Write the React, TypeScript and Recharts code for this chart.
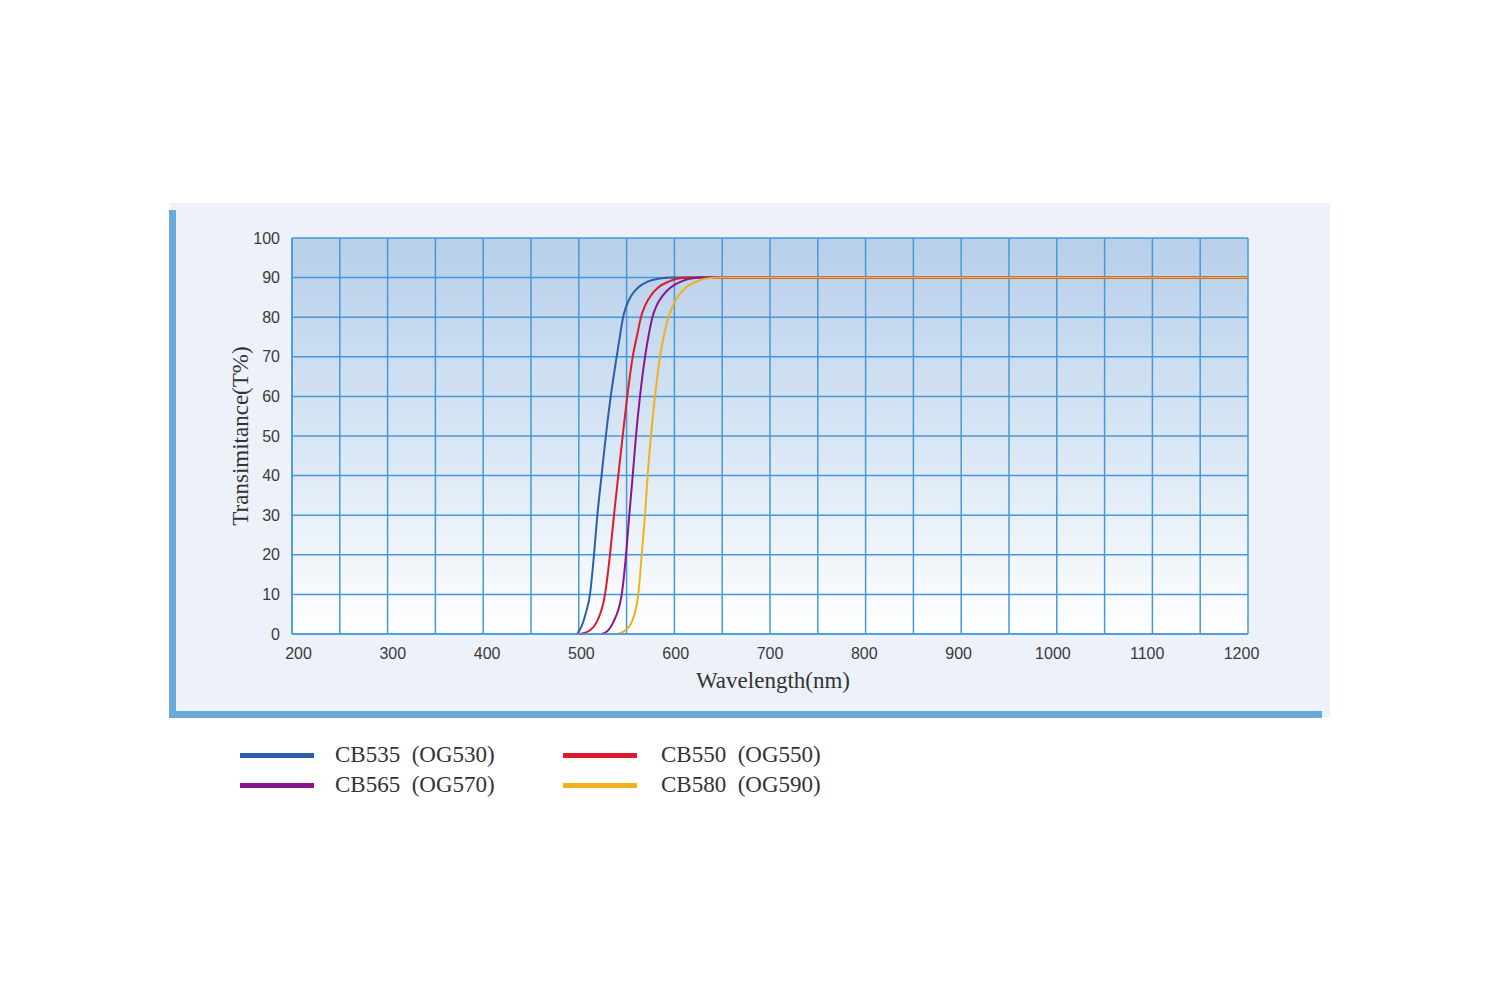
import React from 'react';
import { LineChart, Line, XAxis, YAxis, CartesianGrid, Label } from 'recharts';

// ---- data ----
const xTicks = [200, 250, 300, 350, 400, 450, 500, 550, 600, 650, 700, 750, 800, 850, 900, 950, 1000, 1050, 1100, 1150, 1200];
const yTicks = [0, 10, 20, 30, 40, 50, 60, 70, 80, 90, 100];

const seriesNames = ['CB535\u2002(OG530)', 'CB550\u2002(OG550)', 'CB565\u2002(OG570)', 'CB580\u2002(OG590)'];
const seriesColors = ['#2d5fa8', '#e0192c', '#8b168a', '#efb21e'];

const cb535Nm = [498, 503, 507, 511.7, 515.9, 519.4, 523.8, 528.3, 533.4, 539.6, 543.5, 546.3, 550, 555, 562, 572, 583, 600, 1200];
const cb535T = [0, 2, 5, 10, 20, 30, 40, 50, 60, 70, 76, 80, 83, 85.5, 87.5, 89, 89.7, 90, 90];

const cb550Nm = [501.3, 512, 518.7, 527.4, 532.6, 536.8, 541.3, 545.9, 550.7, 556.4, 561.5, 565, 569.5, 575.5, 583, 594, 603, 616, 1200];
const cb550T = [0, 1, 3, 10, 20, 30, 40, 50, 60, 70, 76, 80, 83, 85.5, 87.5, 89, 89.7, 90, 90];

const cb565Nm = [524, 531, 536.1, 544.9, 549.4, 552.8, 556.4, 559.8, 564, 569.3, 573.5, 577, 581.5, 588, 596, 607, 616, 630, 1200];
const cb565T = [0, 1, 3, 10, 20, 30, 40, 50, 60, 70, 76, 80, 83, 85.5, 87.5, 89, 89.7, 90, 90];

const cb580Nm = [541.3, 549, 555.3, 562.2, 565.8, 569.2, 572, 575.5, 579.7, 584.9, 589.6, 593.8, 598.5, 604.5, 612, 623, 632, 650, 1200];
const cb580T = [0, 1, 3, 10, 20, 30, 40, 50, 60, 70, 76, 80, 83, 85.5, 87.5, 89, 89.7, 90, 90];

const xTitle = 'Wavelength(nm)';
const yTitle = 'Transimitance(T%)';

const seriesNm = [cb535Nm, cb550Nm, cb565Nm, cb580Nm];
const seriesT = [cb535T, cb550T, cb565T, cb580T];
const seriesData = seriesNm.map((xs, i) => xs.map((nm, j) => ({ nm, t: seriesT[i][j] })));

// legend layout order: row1 CB535, CB550; row2 CB565, CB580
const legendOrder = [0, 1, 2, 3];

const GRID = '#4798d6';
const BAR = '#6aaadb';

const XTick = (props: any) => {
  const { x, y, payload } = props;
  const v = payload.value;
  if (v % 100 !== 0) return null;
  const shift = -(v - 700) * 0.013;
  return (
    <text x={x + shift} y={y} dy="0.71em" textAnchor="middle" fontFamily="Liberation Sans, Arial, sans-serif" fontSize={16} fill="#3a3a3a">
      {v}
    </text>
  );
};

const YTitle = (props: any) => {
  const vb = props.viewBox || {};
  const cx = vb.x + 18;
  const cy = vb.y + vb.height / 2;
  return (
    <text transform={`translate(${cx},${cy}) rotate(-90)`} textAnchor="middle" dominantBaseline="central" fontFamily="Liberation Serif, Times New Roman, serif" fontSize={23} fill="#333">
      {yTitle}
    </text>
  );
};

export default function App() {
  return (
    <div style={{ position: 'relative', width: 1483, height: 984 }}>
      <div style={{ position: 'absolute', left: 162, top: 195, width: 1160, height: 514, background: '#edf1f9' }} />
      <div style={{ position: 'absolute', left: 161, top: 202, width: 7, height: 508, background: BAR }} />
      <div style={{ position: 'absolute', left: 161, top: 703, width: 1153, height: 7, background: BAR }} />
      <div style={{ position: 'absolute', left: 0, top: 0 }}>
        <LineChart width={1483} height={720} margin={{ top: 230, right: 243, bottom: 32, left: 214 }}>
          <defs>
            <linearGradient id="plotBg" x1="0" y1="0" x2="0" y2="1">
              <stop offset="0%" stopColor="#b7cfea" />
              <stop offset="55%" stopColor="#dbe8f5" />
              <stop offset="100%" stopColor="#ffffff" />
            </linearGradient>
          </defs>
          <CartesianGrid stroke={GRID} strokeWidth={1.5} fill="url(#plotBg)" fillOpacity={1} />
          <XAxis
            dataKey="nm"
            type="number"
            domain={[200, 1200]}
            ticks={xTicks}
            interval={0}
            allowDataOverflow
            height={62}
            tickLine={false}
            tickMargin={8}
            axisLine={{ stroke: GRID, strokeWidth: 1.5 }}
            tick={<XTick />}
          >
            <Label value={xTitle} position="insideBottom" offset={8} dx={3} style={{ fontFamily: 'Liberation Serif, Times New Roman, serif', fontSize: 23, fill: '#333' }} />
          </XAxis>
          <YAxis
            type="number"
            domain={[0, 100]}
            ticks={yTicks}
            interval={0}
            width={70}
            tickLine={false}
            tickMargin={6}
            axisLine={{ stroke: GRID, strokeWidth: 1.5 }}
            tick={{ fontFamily: 'Liberation Sans, Arial, sans-serif', fontSize: 16, fill: '#3a3a3a' }}
          >
            <Label content={<YTitle />} />
          </YAxis>
          {seriesData.map((d, i) => (
            <Line
              key={seriesNames[i]}
              data={d}
              dataKey="t"
              name={seriesNames[i]}
              type="monotone"
              stroke={seriesColors[i]}
              strokeWidth={2}
              dot={false}
              activeDot={false}
              isAnimationActive={false}
            />
          ))}
        </LineChart>
      </div>
      {legendOrder.map((idx, k) => {
        const col = k % 2;
        const row = Math.floor(k / 2);
        const lineLeft = col === 0 ? 232 : 555;
        const textLeft = col === 0 ? 327 : 653;
        const cy = 747 + row * 30;
        return (
          <React.Fragment key={seriesNames[idx]}>
            <div style={{ position: 'absolute', left: lineLeft, top: cy - 2.5, width: 74, height: 5, background: seriesColors[idx] }} />
            <div style={{ position: 'absolute', left: textLeft, top: cy - 14, height: 28, lineHeight: '28px', fontFamily: 'Liberation Serif, Times New Roman, serif', fontSize: 23, color: '#333', whiteSpace: 'pre' }}>
              {seriesNames[idx]}
            </div>
          </React.Fragment>
        );
      })}
    </div>
  );
}
